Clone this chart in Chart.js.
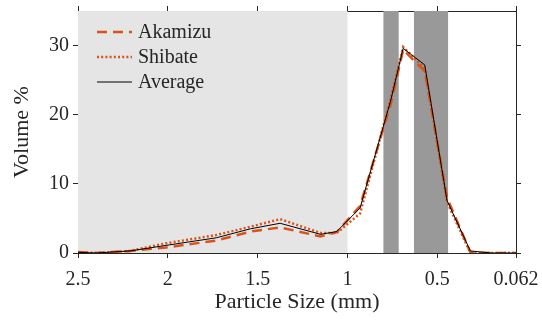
<!DOCTYPE html>
<html>
<head>
<meta charset="utf-8">
<script src="https://cdn.jsdelivr.net/npm/chart.js@4.4.1/dist/chart.umd.min.js"></script>
<style>
    html, body { margin: 0; padding: 0; background: #ffffff; }
    #wrap { width: 542px; height: 324px; }
</style>
</head>
<body>
<div id="wrap"><canvas id="psd" width="542" height="324"></canvas></div>
<script>
// particle size (mm) and volume % for each sample
const sizeMM   = [2.5, 2.40, 2.21, 2.01, 1.73, 1.54, 1.375, 1.15, 1.06, 0.93, 0.76, 0.69, 0.57, 0.446, 0.316, 0.2, 0.062];
const akamizu  = [0.15, 0, 0.3, 0.8, 1.8, 3.1, 3.7, 2.4, 3.0, 6.8, 21.5, 29.4, 26.3, 8.0, 0.1, 0, 0];
const shibate  = [0.1, 0, 0.3, 1.4, 2.6, 3.8, 4.9, 2.9, 2.9, 5.7, 22.3, 29.8, 26.7, 7.4, 0, 0, 0];
const average  = [0.1, 0, 0.3, 1.1, 2.2, 3.5, 4.3, 2.7, 3.1, 6.5, 22.0, 29.6, 27.2, 7.6, 0.3, 0, 0];

const xTicks = [2.5, 2, 1.5, 1, 0.5, 0.062];
const yTicks = [0, 10, 20, 30];

// shaded size bands [from, to]
const lightBands = [[2.5, 1.0]];
const darkBands = [[0.80, 0.715], [0.63, 0.44]];

const ORANGE = '#D95319';
const AXIS = '#262626';
const FONT = "'Liberation Serif', 'DejaVu Serif', serif";

function pts(values) {
    return sizeMM.map((x, i) => ({ x: x, y: values[i] }));
}

const series = [
    { label: 'Akamizu', data: akamizu, color: ORANGE, width: 2.5, dash: [10, 6], order: 3 },
    { label: 'Shibate', data: shibate, color: ORANGE, width: 2.5, dash: [2, 2.2], order: 2 },
    { label: 'Average', data: average, color: '#000000', width: 1, dash: [], order: 1 }
];

// background bands under the curves
const bandPlugin = {
    id: 'bands',
    beforeDatasetsDraw(chart) {
        const { ctx, chartArea, scales } = chart;
        const fill = (bands, color) => {
            bands.forEach(b => {
                const x1 = scales.x.getPixelForValue(b[0]);
                const x2 = scales.x.getPixelForValue(b[1]);
                ctx.fillStyle = color;
                ctx.fillRect(Math.min(x1, x2), chartArea.top, Math.abs(x2 - x1), chartArea.bottom - chartArea.top);
            });
        };
        ctx.save();
        fill(lightBands, '#E5E5E5');
        fill(darkBands, '#999999');
        ctx.restore();
    }
};

// legend drawn inside the top-left corner of the plot
const insideLegend = {
    id: 'insideLegend',
    afterDraw(chart) {
        const { ctx, chartArea } = chart;
        const x0 = chartArea.left + 19;
        const y0 = chartArea.top + 21;
        ctx.save();
        ctx.font = '20px ' + FONT;
        ctx.textBaseline = 'middle';
        ctx.fillStyle = AXIS;
        series.forEach((s, i) => {
            const y = y0 + i * 25;
            ctx.beginPath();
            ctx.strokeStyle = s.color;
            ctx.lineWidth = s.width;
            ctx.setLineDash(s.dash);
            ctx.moveTo(x0, y);
            ctx.lineTo(x0 + 35, y);
            ctx.stroke();
            ctx.setLineDash([]);
            ctx.fillText(s.label, x0 + 41, y + 1);
        });
        ctx.restore();
    }
};

const fixed = (values) => (scale) => { scale.ticks = values.map(v => ({ value: v })); };

const tickGrid = { drawOnChartArea: false, drawTicks: true, tickLength: 5, color: AXIS, lineWidth: 1 };
const border = { display: true, color: AXIS, width: 1 };

new Chart(document.getElementById('psd'), {
    type: 'line',
    data: {
        datasets: series.map(s => ({
            label: s.label,
            data: pts(s.data),
            borderColor: s.color,
            borderWidth: s.width,
            borderDash: s.dash,
            pointRadius: 0,
            tension: 0,
            fill: false,
            order: s.order
        }))
    },
    options: {
        responsive: false,
        animation: false,
        layout: { padding: 0 },
        plugins: { legend: { display: false }, tooltip: { enabled: false } },
        scales: {
            x: {
                type: 'linear', position: 'bottom', reverse: true, min: 0.062, max: 2.5,
                afterBuildTicks: fixed(xTicks),
                // end labels may hang past the plot edges
                afterFit: (s) => { s.height = 71; s.paddingLeft = 0; s.paddingRight = 0; },
                grid: tickGrid, border: border,
                ticks: { color: AXIS, padding: 10, maxRotation: 0, font: { family: FONT, size: 20 },
                         callback: (v) => String(v) },
                title: { display: true, text: 'Particle Size (mm)', color: AXIS, padding: { bottom: 9 },
                         font: { family: FONT, size: 22 } }
            },
            x2: {
                type: 'linear', position: 'top', reverse: true, min: 0.062, max: 2.5,
                afterBuildTicks: fixed(xTicks),
                afterFit: (s) => { s.height = 11; s.paddingLeft = 0; s.paddingRight = 0; },
                grid: tickGrid, border: border,
                ticks: { display: false }
            },
            y: {
                type: 'linear', position: 'left', min: 0, max: 35,
                afterBuildTicks: fixed(yTicks),
                afterFit: (s) => { s.width = 78; s.paddingTop = 0; s.paddingBottom = 0; },
                grid: tickGrid, border: border,
                ticks: { color: AXIS, padding: 4, font: { family: FONT, size: 20 } },
                title: { display: true, text: 'Volume %', color: AXIS, padding: { top: 9 },
                         font: { family: FONT, size: 22 } }
            },
            y2: {
                type: 'linear', position: 'right', min: 0, max: 35,
                afterBuildTicks: fixed(yTicks),
                afterFit: (s) => { s.width = 26; s.paddingTop = 0; s.paddingBottom = 0; },
                grid: tickGrid, border: border,
                ticks: { display: false }
            }
        }
    },
    plugins: [bandPlugin, insideLegend]
});
</script>
</body>
</html>
